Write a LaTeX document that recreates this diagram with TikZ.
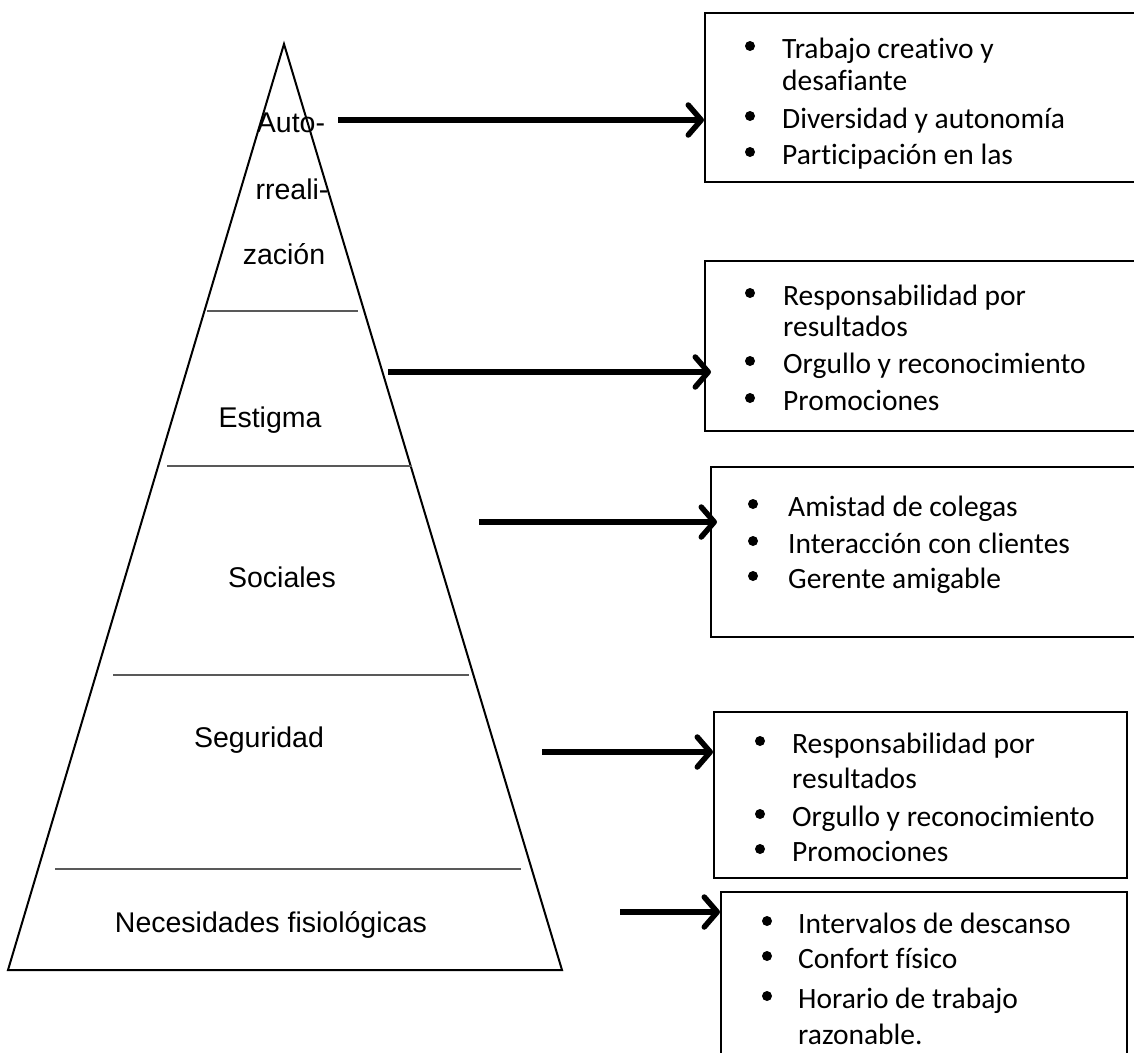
\documentclass[tikz,border=0pt]{standalone}
\usepackage{fontspec}
\setmainfont{Liberation Sans}
\newfontfamily\listfont[Ligatures=NoCommon]{Carlito}
\usetikzlibrary{arrows.meta}

\tikzset{
  level/.style={font=\fontsize{28.5}{34}\selectfont, inner sep=0pt, anchor=base},
  item/.style={font=\listfont\fontsize{29.5}{35}\selectfont, inner sep=0pt, anchor=base west},
  listbox/.style={draw, line width=1.5pt, anchor=north west, inner sep=0pt},
  push/.style={line width=5.5pt, -{Straight Barb[length=13pt,width=30pt,round]}},
  split/.style={line width=1.5pt, black!65}
}

\begin{document}
\begin{tikzpicture}[x=1pt, y=-1pt]
  \useasboundingbox (0,0) rectangle (1134,1052);
  \clip (0,0) rectangle (1134,1052);

  % pyramid
  \coordinate (top) at (284,44);
  \coordinate (bl) at (8,970);
  \coordinate (br) at (562,970);
  \draw[line width=2pt] (top) -- (br) -- (bl) -- cycle;
  \draw[split] (207,311) -- (358,311);
  \draw[split] (167,466) -- (412,466);
  \draw[split] (113,675) -- (469,675);
  \draw[split] (55,869) -- (521,869);

  \node[level] (auto1) at (291,132) {Auto-};
  \node[level] (auto2) at (292,199) {rreali-};
  \node[level] (auto3) at (284,264) {zación};
  \node[level] (est) at (270,427) {Estigma};
  \node[level] (soc) at (282,587) {Sociales};
  \node[level] (seg) at (259,747) {Seguridad};
  \node[level] (fis) at (271,932) {Necesidades fisiológicas};

  % boxes
  \node[listbox, minimum width=440pt, minimum height=169pt] (goal1) at (704,12) {};
  \node[listbox, minimum width=440pt, minimum height=170pt] (goal2) at (704,260) {};
  \node[listbox, minimum width=434pt, minimum height=170pt] (goal3) at (710,466) {};
  \node[listbox, minimum width=413pt, minimum height=166pt] (goal4) at (713,711) {};
  \node[listbox, minimum width=406pt, minimum height=175pt] (goal5) at (720,891) {};

  \fill (750,46) circle (5pt);
  \node[item] (g1a) at (782,58) {Trabajo creativo y};
  \node[item] (g1b) at (782,90) {desafiante};
  \fill (750,116) circle (5pt);
  \node[item] (g1c) at (782,128) {Diversidad y autonomía};
  \fill (750,152) circle (5pt);
  \node[item] (g1d) at (782,164) {Participación en las};

  \fill (750,293) circle (5pt);
  \node[item] (g2a) at (783,305) {Responsabilidad por};
  \node[item] (g2b) at (783,336) {resultados};
  \fill (750,361) circle (5pt);
  \node[item] (g2c) at (783,373) {Orgullo y reconocimiento};
  \fill (750,398) circle (5pt);
  \node[item] (g2d) at (783,410) {Promociones};

  \fill (753,504) circle (5pt);
  \node[item] (g3a) at (788,516) {Amistad de colegas};
  \fill (753,541) circle (5pt);
  \node[item] (g3b) at (788,553) {Interacción con clientes};
  \fill (753,576) circle (5pt);
  \node[item] (g3c) at (788,588) {Gerente amigable};

  \fill (760,741) circle (5pt);
  \node[item] (g4a) at (792,753) {Responsabilidad por};
  \node[item] (g4b) at (792,788) {resultados};
  \fill (760,814) circle (5pt);
  \node[item] (g4c) at (792,826) {Orgullo y reconocimiento};
  \fill (760,849) circle (5pt);
  \node[item] (g4d) at (792,861) {Promociones};

  \fill (767,921) circle (5pt);
  \node[item] (g5a) at (798,933) {Intervalos de descanso};
  \fill (767,956) circle (5pt);
  \node[item] (g5b) at (798,968) {Confort físico};
  \fill (767,996) circle (5pt);
  \node[item] (g5c) at (798,1008) {Horario de trabajo};
  \node[item] (g5d) at (798,1044) {razonable.};

  % arrows
  \coordinate (s1) at (338,120);
  \coordinate (s2) at (388,372);
  \coordinate (s3) at (479,522);
  \coordinate (s4) at (542,752);
  \coordinate (s5) at (620,912);
  \draw[push] (s1) -- (s1 -| goal1.west);
  \draw[push] (s2) -- ([xshift=7pt]s2 -| goal2.west);
  \draw[push] (s3) -- ([xshift=7pt]s3 -| goal3.west);
  \draw[push] (s4) -- (s4 -| goal4.west);
  \draw[push] (s5) -- (s5 -| goal5.west);
\end{tikzpicture}
\end{document}
